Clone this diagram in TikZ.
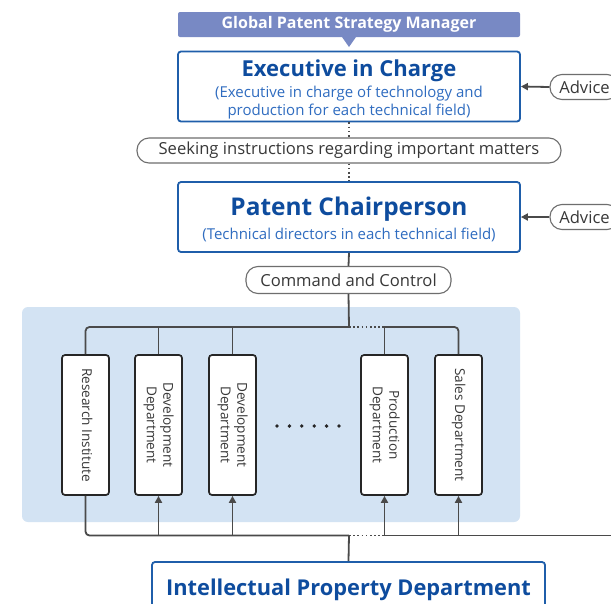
\documentclass[tikz,border=0pt]{standalone}
\usepackage{fontspec}
\setmainfont{Open Sans}
\usepackage{graphicx}
\usetikzlibrary{positioning,arrows.meta}

\definecolor{bannerblue}{HTML}{7889C4}
\definecolor{frameblue}{HTML}{1F5EAA}
\definecolor{titleblue}{HTML}{0E4C9E}
\definecolor{subblue}{HTML}{2F6CC0}
\definecolor{panelblue}{HTML}{D3E3F3}
\definecolor{linegray}{HTML}{4A4A4A}
\definecolor{textgray}{HTML}{383838}

\newcommand{\deptlabel}[1]{\rotatebox{-90}{\begin{tabular}{@{}c@{}}#1\end{tabular}}}
\newcommand{\lowered}[2]{\raisebox{-#1}[\height][\depth]{\parbox{340pt}{\centering #2}}}

\tikzset{
  bluebox/.style={draw=frameblue, line width=1.8pt, fill=white, rounded corners=3pt,
    minimum width=342pt, align=center, inner sep=0pt,
    text=subblue, font=\fontsize{15}{18.5}\selectfont},
  pill/.style={draw=linegray!80, line width=1.1pt, fill=white, rounded corners=12pt,
    text=textgray, inner sep=0pt, font=\fontsize{16.6}{19}\selectfont},
  deptbox/.style={draw=black!85, line width=1.7pt, fill=white, rounded corners=3pt,
    minimum width=47pt, minimum height=140pt, inner sep=0pt, text=textgray,
    font=\fontsize{13.6}{16.5}\selectfont},
  conn/.style={draw=linegray, line width=1.8pt},
  upconn/.style={conn, -{Triangle[length=7pt,width=7pt]}},
  dotline/.style={draw=linegray, line width=1.6pt, dash pattern=on 1.6pt off 2.6pt},
}

\begin{document}
\begin{tikzpicture}[x=1pt,y=-1pt]

\clip (0,0) rectangle (611,603);
\fill[white] (0,0) rectangle (611,603);

% ============================
% TOP: STRATEGY MANAGER AND EXECUTIVE
% ============================

\node[fill=bannerblue, rounded corners=2pt, minimum width=342pt, minimum height=25pt,
  inner sep=0pt, text=white, font=\fontsize{16}{18}\selectfont\bfseries]
  (gpsm) at (349,24.5) {\raisebox{-1pt}{Global Patent Strategy Manager}};
\fill[bannerblue] (342,37) -- (356,37) -- (349,47) -- cycle;

\node[bluebox, minimum height=70pt] (exec) at (349,86.5)
  {\lowered{3pt}{{\fontsize{22}{24}\selectfont\bfseries\color{titleblue}Executive in Charge}\\[2pt]
   (Executive in charge of technology and\\
    production for each technical field)}};

\node[pill, minimum width=424pt, minimum height=25pt] (seek) at (349,150.5)
  {\raisebox{-1.5pt}{Seeking instructions regarding important matters}};

\node[bluebox, minimum height=70pt, font=\fontsize{15}{18}\selectfont] (chair) at (349,217)
  {\lowered{2pt}{{\fontsize{24.4}{26}\selectfont\bfseries\color{titleblue}Patent Chairperson}\\[6pt]
   (Technical directors in each technical field)}};

\draw[dotline] (exec.south) -- (seek.north);
\draw[dotline] (seek.south) -- (chair.north);

% Advice inputs
\node[pill, minimum width=69pt, minimum height=25pt] (adv1) at (584.5,87) {Advice};
\node[pill, minimum width=69pt, minimum height=25pt] (adv2) at (584.5,217) {Advice};
\draw[conn, -{Triangle[length=7pt,width=7pt]}] (adv1.west) -- (exec.east);
\draw[conn, -{Triangle[length=7pt,width=7pt]}] (adv2.west) -- (chair.east);

\node[pill, minimum width=205pt, minimum height=27pt] (cmd) at (348.5,280)
  {\raisebox{-1pt}{Command and Control}};
\draw[conn] (chair.south) -- (cmd.north);

% ============================
% DEPARTMENTS PANEL
% ============================

\fill[panelblue, rounded corners=6pt] (22,307) rectangle (520,522);

\node[deptbox] (res)   at (85.5,425)  {\deptlabel{Research Institute}};
\node[deptbox] (dev1)  at (158.5,425) {\deptlabel{Development\\Department}};
\node[deptbox] (dev2)  at (232.5,425) {\deptlabel{Development\\Department}};
\node[deptbox] (prod)  at (384.5,425) {\deptlabel{Production\\Department}};
\node[deptbox] (sales) at (458.5,425) {\deptlabel{Sales Department}};

\foreach \i in {0,...,5}
  \fill[black!85] (277+12.4*\i,426) circle (1.9pt);

% Top bus
\coordinate (bustop) at (349,327);
\coordinate (busdot) at (382,327);
\draw[conn] (cmd.south) -- (bustop);
\draw[conn, rounded corners=4pt] (res.north) |- (bustop);
\draw[dotline] (bustop) -- (busdot);
\draw[conn, rounded corners=4pt] (busdot) -| (sales.north);
\foreach \d in {dev1,dev2,prod}
  \draw[conn] (\d.north) -- (\d.north |- bustop);

% ============================
% BOTTOM: IP DEPARTMENT
% ============================

\node[bluebox, minimum width=393pt, minimum height=56pt] (ipd) at (348.5,590)
  {\raisebox{4pt}{\fontsize{21.8}{24}\selectfont\bfseries\color{titleblue}Intellectual Property Department}};

\coordinate (busbot) at (349,535.5);
\coordinate (busdotb) at (382,535.5);
\coordinate (busend) at (615,535.5);
\draw[conn, rounded corners=4pt] (res.south) |- (busbot);
\draw[dotline] (busbot) -- (busdotb);
\draw[conn] (busdotb) -- (busend);
\draw[conn] (busbot) -- (ipd.north);
\foreach \d in {dev1,dev2,prod,sales}
  \draw[upconn] (\d.south |- busbot) -- (\d.south);

\end{tikzpicture}
\end{document}
